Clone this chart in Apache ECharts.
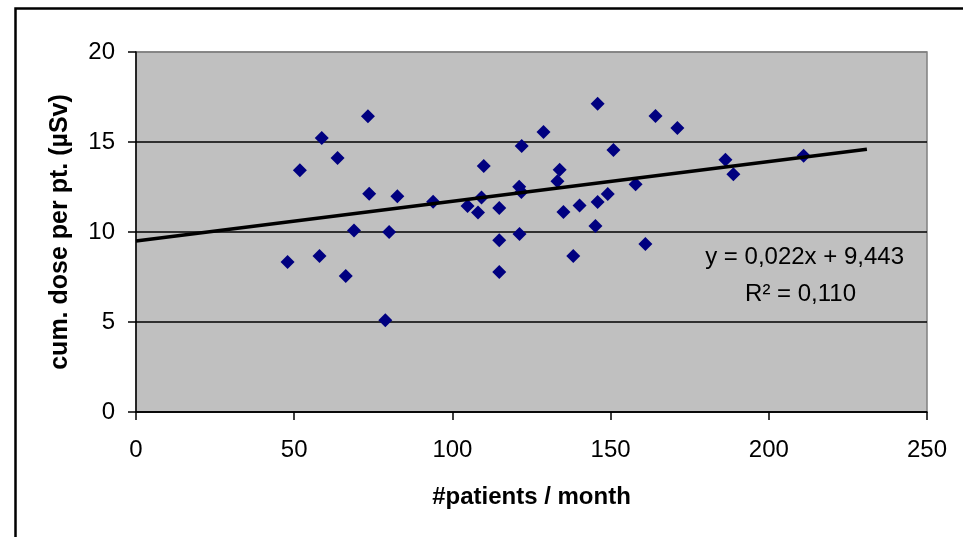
<!DOCTYPE html>
<html>
<head>
<meta charset="utf-8">
<title>cum. dose per pt.</title>
<script src="https://cdn.jsdelivr.net/npm/echarts@6/dist/echarts.min.js"></script>
<style>
    html, body { margin: 0; padding: 0; background: #fff; }
    #chart { width: 963px; height: 537px; }
</style>
</head>
<body>
<div id="chart"></div>
<script>
// patients per month (x) and cumulative dose per patient in µSv (y)
var patients = [47.9, 51.8, 58.0, 58.7, 63.7, 66.3, 68.9, 73.3, 73.7, 78.8,
    80.0, 82.6, 93.9, 104.8, 108.1, 109.2, 109.9, 114.8, 114.8, 114.8,
    121.1, 121.8, 121.2, 121.9, 128.8, 133.2, 133.9, 135.1, 138.2, 140.2,
    145.2, 145.9, 145.9, 149.1, 150.9, 157.9, 161.0, 164.2, 171.1, 186.3,
    188.8, 211.0];
var doses = [8.33, 13.43, 8.67, 15.22, 14.11, 7.55, 10.09, 16.43, 12.12, 5.10,
    10.0, 11.98, 11.68, 11.44, 11.09, 11.91, 13.67, 11.33, 9.54, 7.78,
    12.52, 12.22, 9.89, 14.78, 15.56, 12.82, 13.46, 11.11, 8.67, 11.47,
    10.34, 11.67, 17.13, 12.11, 14.56, 12.65, 9.33, 16.44, 15.78, 14.02,
    13.21, 14.24];

// linear trend line end points
var trend_x = [0, 231];
var trend_y = [9.5, 14.6];
var trend_text = ['y = 0,022x + 9,443', 'R\u00b2 = 0,110'];

var x_ticks = [0, 250, 50];
var y_ticks = [0, 20, 5];

var font = "'Liberation Sans', Arial, sans-serif";

var points = patients.map(function (p, i) { return [p, doses[i]]; });
var trend = trend_x.map(function (x, i) { return [x, trend_y[i]]; });

var myChart = echarts.init(document.getElementById('chart'));
var option = {
    animation: false,
    backgroundColor: '#ffffff',
    textStyle: { fontFamily: font },
    grid: {
        left: 136,
        top: 52,
        right: 36,
        bottom: 125,
        show: true,
        backgroundColor: '#c0c0c0',
        borderColor: '#808080',
        borderWidth: 1.5,
        outerBoundsMode: 'none'
    },
    xAxis: {
        type: 'value',
        min: x_ticks[0],
        max: x_ticks[1],
        interval: x_ticks[2],
        name: '#patients / month',
        nameLocation: 'middle',
        nameGap: 73,
        nameTextStyle: { fontSize: 24, fontWeight: 'bold', color: '#000', fontFamily: font },
        axisLine: { show: true, lineStyle: { color: '#000', width: 1.5 } },
        axisTick: { show: true, inside: false, length: 8, lineStyle: { color: '#000', width: 1.5 } },
        axisLabel: { margin: 26, fontSize: 24, color: '#000', fontFamily: font },
        splitLine: { show: false }
    },
    yAxis: {
        type: 'value',
        min: y_ticks[0],
        max: y_ticks[1],
        interval: y_ticks[2],
        name: 'cum. dose per pt. (\u00b5Sv)',
        nameLocation: 'middle',
        nameRotate: 90,
        nameGap: 63,
        nameTextStyle: { fontSize: 25, fontWeight: 'bold', color: '#000', fontFamily: font },
        axisLine: { show: true, lineStyle: { color: '#000', width: 1.5 } },
        axisTick: { show: true, inside: false, length: 8, lineStyle: { color: '#000', width: 1.5 } },
        axisLabel: { margin: 21, fontSize: 24, color: '#000', fontFamily: font },
        splitLine: {
            show: true,
            lineStyle: { color: ['#000', '#000', '#000', '#000', '#808080'], width: 1.5 }
        }
    },
    series: [
        {
            name: 'dose',
            type: 'scatter',
            symbol: 'diamond',
            symbolSize: 14,
            itemStyle: { color: '#000080', opacity: 1 },
            data: points,
            z: 2
        },
        {
            name: 'trend',
            type: 'line',
            showSymbol: false,
            symbol: 'none',
            lineStyle: { color: '#000', width: 3.5 },
            data: trend,
            z: 3
        }
    ],
    graphic: [
        {
            type: 'rect',
            left: 13,
            top: 6,
            shape: { x: 0, y: 0, width: 1000, height: 600 },
            style: { fill: 'none', stroke: '#000', lineWidth: 2.5 },
            silent: true
        },
        {
            type: 'text',
            x: 904,
            y: 257,
            style: {
                text: trend_text[0],
                fill: '#000',
                font: '24px ' + font,
                textAlign: 'right',
                textVerticalAlign: 'middle'
            },
            z: 10
        },
        {
            type: 'text',
            x: 856,
            y: 294,
            style: {
                text: trend_text[1],
                fill: '#000',
                font: '24px ' + font,
                textAlign: 'right',
                textVerticalAlign: 'middle'
            },
            z: 10
        }
    ]
};
myChart.setOption(option);
</script>
</body>
</html>
